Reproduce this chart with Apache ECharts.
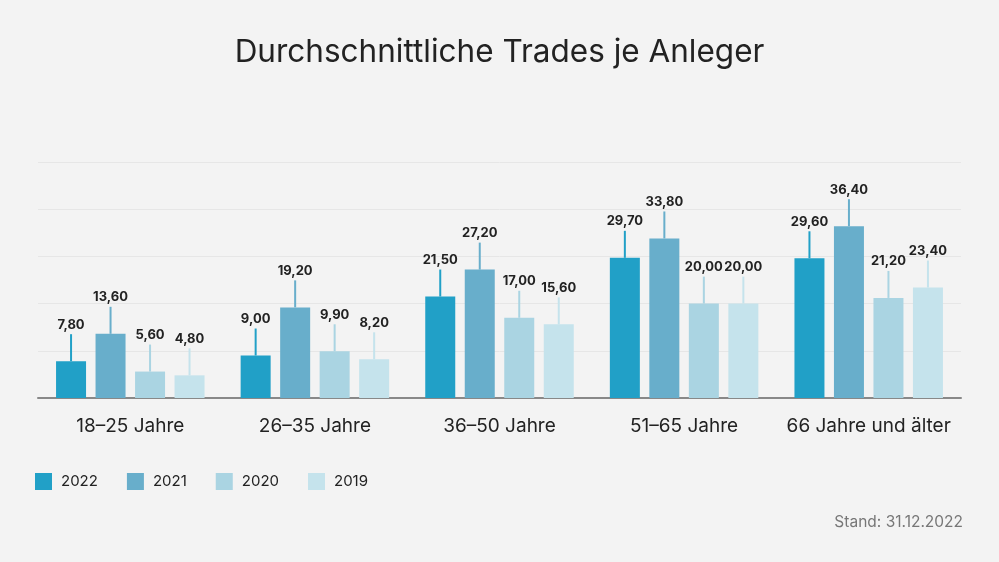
<!DOCTYPE html>
<html><head><meta charset="utf-8">
<script src="https://cdn.jsdelivr.net/npm/echarts@6/dist/echarts.min.js"></script>
<style>html,body{margin:0;padding:0;background:#f3f3f3}#c{width:999px;height:562px}</style>
</head><body><div id="c"></div>
<script>
const categories = ['18–25 Jahre','26–35 Jahre','36–50 Jahre','51–65 Jahre','66 Jahre und älter'];
const years = ['2022','2021','2020','2019'];
const v2022 = [7.8, 9.0, 21.5, 29.7, 29.6];
const v2021 = [13.6, 19.2, 27.2, 33.8, 36.4];
const v2020 = [5.6, 9.9, 17.0, 20.0, 21.2];
const v2019 = [4.8, 8.2, 15.6, 20.0, 23.4];
const yTicks = [0, 10, 20, 30, 40, 50];

const values = [v2022, v2021, v2020, v2019];
const colors = ['#21A0C7', '#68AECB', '#AAD4E2', '#C5E3EC'];
const FONT = 'Inter, Lato, sans-serif';
const BAR_W = 30, GAP = 9.5;
const fmt = v => v.toFixed(2).replace('.', ',');

const chart = echarts.init(document.getElementById('c'));
const series = [];
values.forEach((vals, s) => {
  series.push({
    name: years[s], type: 'bar', data: vals, barWidth: BAR_W, barGap: (GAP / BAR_W * 100) + '%',
    itemStyle: { color: colors[s] },
    label: { show: true, position: 'top', distance: 30, formatter: p => fmt(p.value),
      color: '#222', fontFamily: FONT, fontWeight: 'bold', fontSize: 13 },
    z: 3
  });
});
values.forEach((vals, s) => {
  series.push({
    name: years[s] + '_line', type: 'custom', z: 2,
    data: vals.map((v, i) => [i, v]),
    renderItem: (params, api) => {
      const p = api.coord([api.value(0), api.value(1)]);
      const off = (s - 1.5) * (BAR_W + GAP);
      return { type: 'line', shape: { x1: p[0] + off, y1: p[1], x2: p[0] + off, y2: p[1] - 27 },
        style: { stroke: colors[s], lineWidth: 2 } };
    },
    silent: true, tooltip: { show: false }
  });
});

chart.setOption({
  backgroundColor: '#f3f3f3',
  animation: false,
  title: { text: 'Durchschnittliche Trades je Anleger', left: 'center', top: 32,
    textStyle: { fontFamily: FONT, fontWeight: 'normal', fontSize: 31.5, color: '#222' } },
  graphic: [{ type: 'text', right: 36, top: 514, style: { text: 'Stand: 31.12.2022', fill: '#777', font: '15.5px ' + FONT } }],
  legend: { data: years, left: 35, top: 473, padding: 0, itemWidth: 17, itemHeight: 17, itemGap: 29, icon: 'rect',
    textStyle: { fontFamily: FONT, fontSize: 15, color: '#222', padding: [0, 0, 0, 4] } },
  grid: { left: 38, right: 38, top: 162, bottom: 164 },
  xAxis: { type: 'category', data: categories,
    axisLine: { lineStyle: { color: '#888', width: 2 } }, axisTick: { show: false },
    axisLabel: { interval: 0, fontFamily: FONT, fontSize: 19, color: '#222', margin: 19 } },
  yAxis: { type: 'value', min: yTicks[0], max: yTicks[yTicks.length - 1], interval: 10,
    axisLabel: { show: false }, axisLine: { show: false }, axisTick: { show: false },
    splitLine: { lineStyle: { color: '#e6e6e6', width: 1 } } },
  series: series
});
</script></body></html>
